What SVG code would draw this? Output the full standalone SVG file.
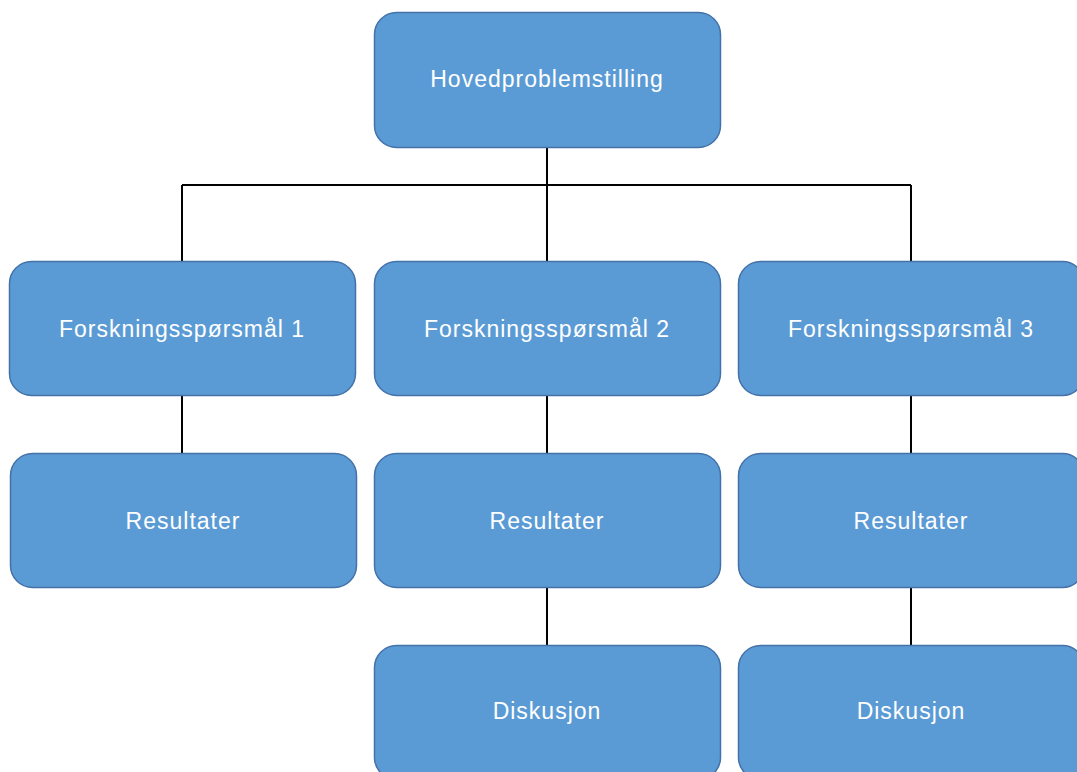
<svg xmlns="http://www.w3.org/2000/svg" width="1077" height="772" viewBox="0 0 1077 772">
<style>
.box{fill:#5B9BD5;stroke:#4472A8;stroke-width:1.5}
.lbl{font-family:"Liberation Sans",Arial,sans-serif;font-size:23px;letter-spacing:1px;fill:#ffffff;text-anchor:middle;dominant-baseline:central}
.con{stroke:#000;stroke-width:2;fill:none}
</style>
<rect width="1077" height="772" fill="#ffffff"/>
<g id="connectors">
<path class="con" d="M547,147 V185 M182,185 H911 M182,185 V261 M547,185 V261 M911,185 V261"/>
<path class="con" d="M182,395 V453 M547,395 V453 M911,395 V453"/>
<path class="con" d="M547,587 V645 M911,587 V645"/>
</g>
<g id="n0"><rect class="box" x="374.5" y="12.5" width="346" height="135" rx="22"/><text class="lbl" x="547" y="79">Hovedproblemstilling</text></g>
<g id="n1"><rect class="box" x="9.5" y="261.5" width="346" height="134" rx="22"/><text class="lbl" x="182" y="329">Forskningsspørsmål 1</text></g>
<g id="n2"><rect class="box" x="374.5" y="261.5" width="346" height="134" rx="22"/><text class="lbl" x="547" y="329">Forskningsspørsmål 2</text></g>
<g id="n3"><rect class="box" x="738.5" y="261.5" width="346" height="134" rx="22"/><text class="lbl" x="911" y="329">Forskningsspørsmål 3</text></g>
<g id="n4"><rect class="box" x="10.5" y="453.5" width="346" height="134" rx="22"/><text class="lbl" x="183" y="521">Resultater</text></g>
<g id="n5"><rect class="box" x="374.5" y="453.5" width="346" height="134" rx="22"/><text class="lbl" x="547" y="521">Resultater</text></g>
<g id="n6"><rect class="box" x="738.5" y="453.5" width="346" height="134" rx="22"/><text class="lbl" x="911" y="521">Resultater</text></g>
<g id="n7"><rect class="box" x="374.5" y="645.5" width="346" height="134" rx="22"/><text class="lbl" x="547" y="711">Diskusjon</text></g>
<g id="n8"><rect class="box" x="738.5" y="645.5" width="346" height="134" rx="22"/><text class="lbl" x="911" y="711">Diskusjon</text></g>
</svg>
